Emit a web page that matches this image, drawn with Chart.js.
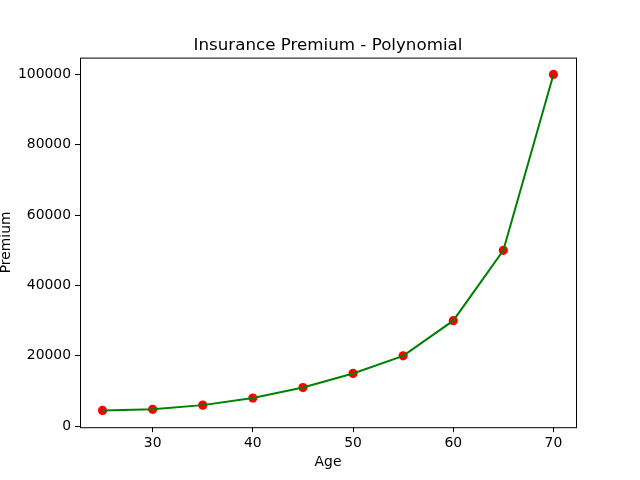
<!DOCTYPE html>
<html>
<head>
<meta charset="utf-8">
<script src="https://cdn.jsdelivr.net/npm/chart.js@4"></script>
<style>
  html, body { margin: 0; padding: 0; background: #fff; }
  #wrap { width: 640px; height: 480px; }
</style>
</head>
<body>
<div id="wrap"><canvas id="chart"></canvas></div>
<script>
// data
const ages = [25, 30, 35, 40, 45, 50, 55, 60, 65, 70];
const premiums = [4500, 4800, 6000, 8000, 11000, 15000, 20000, 30000, 50000, 100000];
const xTicks = [30, 40, 50, 60, 70];
const yTicks = [0, 20000, 40000, 60000, 80000, 100000];

const font = "DejaVu Sans";
const points = ages.map((a, i) => ({ x: a, y: premiums[i] }));

// matplotlib style 5% margins
const xPad = (ages[ages.length - 1] - ages[0]) * 0.05;
const yMin = Math.min(...premiums), yMax = Math.max(...premiums);
const yPad = (yMax - yMin) * 0.05;

// frame, title and axis labels the way matplotlib draws them
const decor = {
  id: "decor",
  afterDraw(chart) {
    const { ctx, chartArea: a } = chart;
    ctx.save();
    ctx.strokeStyle = "#000";
    ctx.lineWidth = 1;
    ctx.strokeRect(a.left + 0.5, a.top + 0.5, a.right - a.left, a.bottom - a.top);
    ctx.fillStyle = "#000";
    ctx.textAlign = "center";
    ctx.textBaseline = "alphabetic";
    ctx.font = "16.7px '" + font + "'";
    ctx.fillText("Insurance Premium - Polynomial", (a.left + a.right) / 2, 50);
    ctx.font = "13.9px '" + font + "'";
    ctx.fillText("Age", (a.left + a.right) / 2, 466);
    ctx.translate(6, (a.top + a.bottom) / 2);
    ctx.rotate(-Math.PI / 2);
    ctx.textBaseline = "middle";
    ctx.fillText("Premium", 0, 0);
    ctx.restore();
  }
};

new Chart(document.getElementById("chart"), {
  type: "scatter",
  plugins: [decor],
  data: {
    datasets: [
      {
        type: "line",
        data: points,
        borderColor: "#008000",
        borderWidth: 2,
        pointRadius: 0,
        fill: false,
        order: 1
      },
      {
        type: "scatter",
        data: points,
        backgroundColor: "#ff0000",
        borderWidth: 0,
        pointRadius: 4.6,
        order: 2
      }
    ]
  },
  options: {
    responsive: true,
    maintainAspectRatio: false,
    animation: false,
    layout: { padding: { top: 57.6, right: 64, left: 0, bottom: 0 } },
    plugins: {
      legend: { display: false },
      tooltip: { enabled: false },
      title: { display: false }
    },
    scales: {
      x: {
        type: "linear",
        min: ages[0] - xPad,
        max: ages[ages.length - 1] + xPad,
        afterBuildTicks: (s) => { s.ticks = xTicks.map(v => ({ value: v })); },
        afterFit: (s) => { s.height = 52.8; },
        grid: { drawOnChartArea: false, tickLength: 5, tickColor: "#000", drawTicks: true },
        border: { display: false },
        ticks: { color: "#000", font: { family: font, size: 13.9 }, padding: 3, maxRotation: 0 }
      },
      y: {
        type: "linear",
        min: yMin - yPad,
        max: yMax + yPad,
        afterBuildTicks: (s) => { s.ticks = yTicks.map(v => ({ value: v })); },
        afterFit: (s) => { s.width = 80; },
        grid: { drawOnChartArea: false, tickLength: 5, tickColor: "#000", drawTicks: true },
        border: { display: false },
        ticks: { color: "#000", font: { family: font, size: 13.9 }, padding: 4, callback: (v) => String(v) }
      }
    }
  }
});
</script>
</body>
</html>
